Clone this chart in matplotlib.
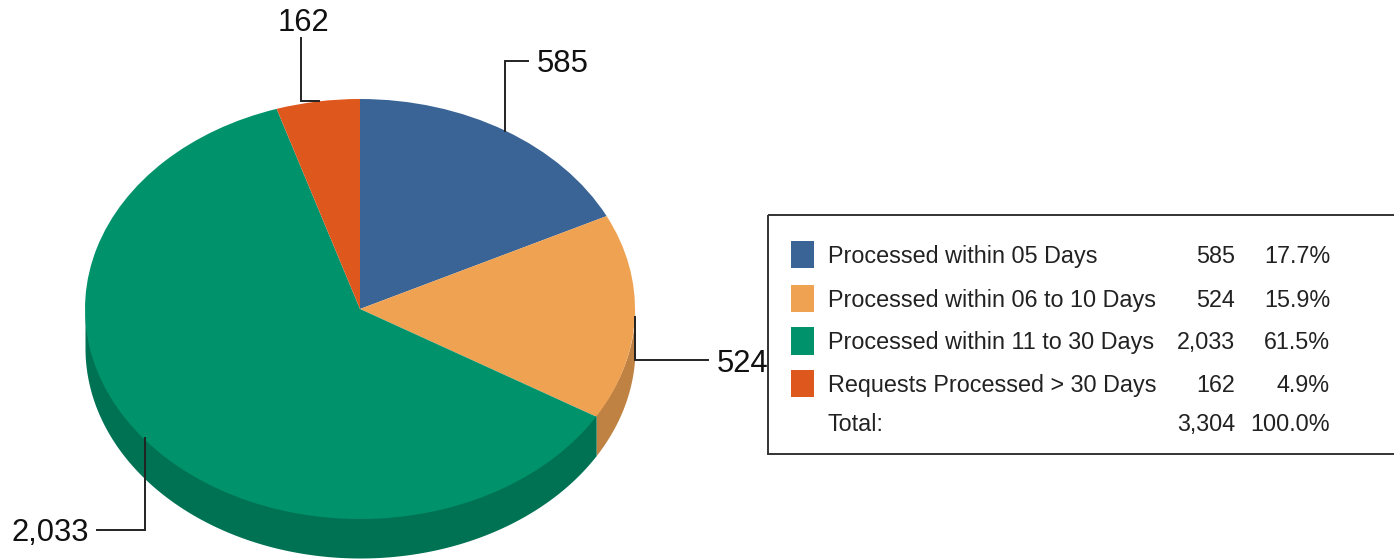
import numpy as np
import matplotlib
matplotlib.use("Agg")
import matplotlib.pyplot as plt
from matplotlib.patches import Rectangle

plt.rcParams['font.family'] = ['Liberation Sans', 'DejaVu Sans']

categories = ["Processed within 05 Days", "Processed within 06 to 10 Days",
              "Processed within 11 to 30 Days", "Requests Processed > 30 Days"]
values = [585, 524, 2033, 162]
value_labels = ["585", "524", "2,033", "162"]
percent_labels = ["17.7%", "15.9%", "61.5%", "4.9%"]
total_label = "Total:"
total_value = "3,304"
total_percent = "100.0%"
colors = ["#3A6496", "#EFA252", "#00936B", "#DE571D"]
side_colors = ["#2B4A70", "#BF8242", "#007254", "#A64116"]

W, H = 1394, 559
fig = plt.figure(figsize=(W / 100, H / 100), dpi=100, facecolor="white")

# pie axes: bounding box of the top ellipse, in pixels
cx, cy, rx, ry, depth = 360, 309, 275, 210, 39
ax = fig.add_axes([(cx - rx) / W, 1 - (cy + ry) / H, 2 * rx / W, 2 * ry / H])
d = depth / ry

# extruded side, from the same values the pie uses
fracs = np.array(values) / sum(values)
edges = 90 - 360 * np.concatenate([[0], np.cumsum(fracs)])
for i, col in enumerate(side_colors):
    hi, lo = edges[i], edges[i + 1]
    t = np.radians(np.linspace(lo, hi, 600))
    # only the front half (sin < 0) can be seen
    t = t[np.sin(t) <= 0]
    if t.size < 2:
        continue
    xs = np.cos(t)
    ax.fill_between(xs, np.sin(t) + 0.01, np.sin(t) - d, color=col, lw=0, clip_on=False, zorder=1)

wedges, _ = ax.pie(values, colors=colors, startangle=90, counterclock=False,
                   radius=1, wedgeprops=dict(linewidth=0))
for w in wedges:
    w.set_zorder(2)
    w.set_clip_on(False)
ax.set_aspect("auto")
ax.set_xlim(-1, 1)
ax.set_ylim(-1, 1)
ax.axis("off")

# overlay in pixel coordinates
ov = fig.add_axes([0, 0, 1, 1], facecolor="none")
ov.set_xlim(0, W)
ov.set_ylim(H, 0)
ov.axis("off")

leaders = [
    ([505, 505, 528], [131, 61, 61]),
    ([635, 635, 708], [317, 360, 360]),
    ([145, 145, 97], [438, 530, 530]),
    ([319, 301, 301], [101, 101, 38]),
]
lab_pos = [(537, 72, "left"), (717, 372, "left"), (89, 541, "right"), (303, 31, "center")]
for (lx, ly), (tx, ty, ha), lab in zip(leaders, lab_pos, value_labels):
    ov.plot(lx, ly, color="#222222", lw=1.4, solid_joinstyle="miter", zorder=5)
    ov.text(tx, ty, lab, ha=ha, va="baseline", fontsize=22.3, color="#111111", zorder=6)

# legend
FS = 16.8
ov.add_patch(Rectangle((767.5, 214.5), 700, 239.5, fc="none", ec="#333333", lw=1.4, zorder=7))
swatch_y = [(241, 268), (285, 312), (327, 355), (370, 397)]
text_y = [263, 307, 349, 392]
for (y0, y1), ty, col, cat, vl, pl in zip(swatch_y, text_y, colors, categories, value_labels, percent_labels):
    ov.add_patch(Rectangle((791, y0), 23, y1 - y0, fc=col, ec="none", zorder=4))
    ov.text(828, ty, cat, ha="left", va="baseline", fontsize=FS, color="#222222", zorder=6)
    ov.text(1235, ty, vl, ha="right", va="baseline", fontsize=FS, color="#222222", zorder=6)
    ov.text(1330, ty, pl, ha="right", va="baseline", fontsize=FS, color="#222222", zorder=6)
ov.text(828, 431, total_label, ha="left", va="baseline", fontsize=FS, color="#222222", zorder=6)
ov.text(1235, 431, total_value, ha="right", va="baseline", fontsize=FS, color="#222222", zorder=6)
ov.text(1330, 431, total_percent, ha="right", va="baseline", fontsize=FS, color="#222222", zorder=6)

fig.savefig("out.png", dpi=100)
